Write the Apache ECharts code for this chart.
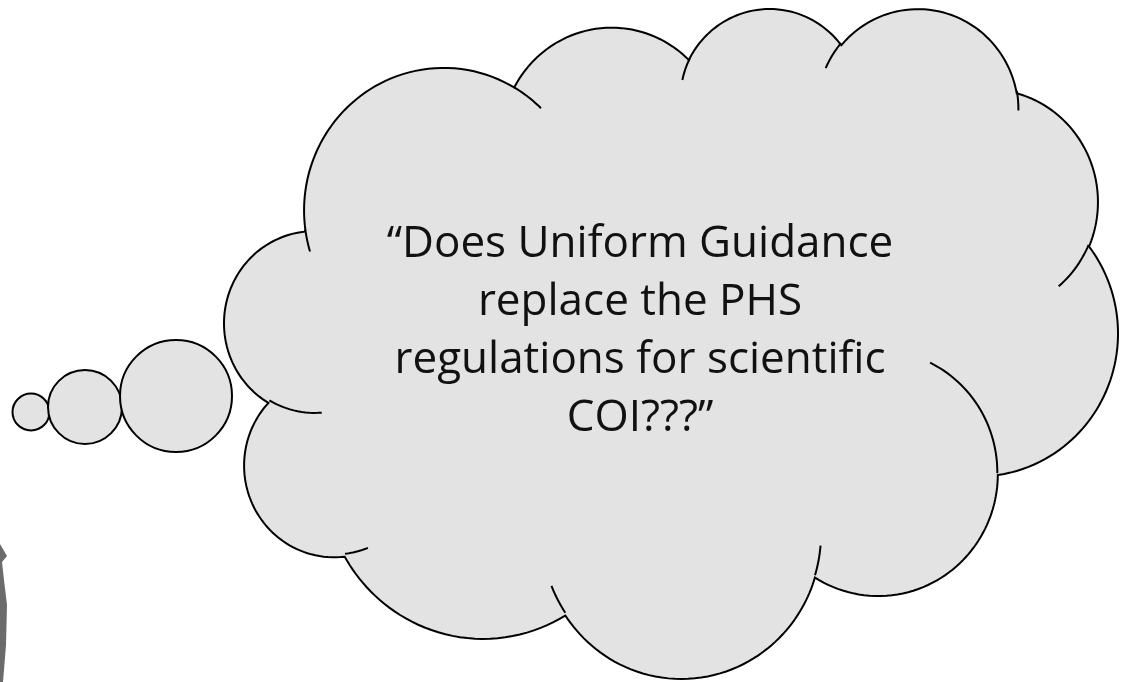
<!DOCTYPE html>
<html>
<head>
<meta charset="utf-8">
<script src="https://cdn.jsdelivr.net/npm/echarts@6/dist/echarts.min.js"></script>
<style>
html,body{margin:0;padding:0;background:#fff;}
#chart{width:1122px;height:682px;}
</style>
</head>
<body>
<div id="chart"></div>
<script>
// Text content of the thought bubble
const textLines = ['\u201cDoes Uniform Guidance', 'replace the PHS', 'regulations for scientific', 'COI???\u201d'];

// Preset cloud outline geometry (DrawingML units, 43200 x 43200)
const cloudStart = [3900, 14370];
const cloudArcs = [
  [6753, 9190, -11429249, 7426832],
  [5333, 7267, -8646143, 5396714],
  [4365, 5945, -8748475, 5983381],
  [4857, 6595, -7859164, 7034504],
  [5333, 7273, -4722533, 6541615],
  [6775, 9220, -2776035, 7816140],
  [5785, 7867, 37501, 6842000],
  [6752, 9215, 1347096, 6910353],
  [7720, 10543, 3974558, 4542661],
  [4360, 5918, -16496525, 8804134],
  [4345, 5945, -14809710, 9151131]
];
const innerArcs = [
  [4693, 26177, 4345, 5945, 5204520, 1585770],
  [6928, 34899, 4360, 5918, 4416628, 686848],
  [16478, 39090, 6752, 9215, 8257449, 844866],
  [28827, 34751, 6752, 9215, 387196, 959901],
  [34129, 22954, 5785, 7867, -4217541, 4255042],
  [41798, 15354, 5333, 7273, 1819082, 1665090],
  [38324, 5426, 4857, 6595, -824660, 891534],
  [29078, 3952, 4857, 6595, -8950887, 1091722],
  [22141, 4720, 4365, 5945, -9809656, 1061181],
  [14000, 5192, 6753, 9190, -4002417, 739161],
  [4127, 15789, 6753, 9190, 9459261, 711490]
];

function ellPt(wR, hR, ang) {
  const t = ang * Math.PI / 180 / 60000;
  const c = Math.cos(t), s = Math.sin(t);
  const r = 1 / Math.sqrt((c * c) / (wR * wR) + (s * s) / (hR * hR));
  return [r * c, r * s];
}
function arcTo(pts, cur, wR, hR, st, sw) {
  const p0 = ellPt(wR, hR, st);
  const cx = cur[0] - p0[0], cy = cur[1] - p0[1];
  const N = Math.max(12, Math.ceil(Math.abs(sw) / 60000 / 2));
  let last = cur;
  for (let i = 1; i <= N; i++) {
    const p = ellPt(wR, hR, st + sw * i / N);
    last = [cx + p[0], cy + p[1]];
    pts.push(last);
  }
  return last;
}

const fillPts = [cloudStart.slice()];
let cur = cloudStart.slice();
cloudArcs.forEach(a => { cur = arcTo(fillPts, cur, a[0], a[1], a[2], a[3]); });

const innerPts = innerArcs.map(a => {
  const pts = [[a[0], a[1]]];
  arcTo(pts, [a[0], a[1]], a[2], a[3], a[4], a[5]);
  return pts;
});

// fit the outline into the observed frame
const box = {left: 224, right: 1118, top: 9, bottom: 679};
let minX = Infinity, maxX = -Infinity, minY = Infinity, maxY = -Infinity;
fillPts.forEach(p => { minX = Math.min(minX, p[0]); maxX = Math.max(maxX, p[0]); minY = Math.min(minY, p[1]); maxY = Math.max(maxY, p[1]); });
const sx = (box.right - box.left) / (maxX - minX);
const sy = (box.bottom - box.top) / (maxY - minY);
const map = p => [box.left + (p[0] - minX) * sx, box.top + (p[1] - minY) * sy];

const FILL = '#e3e3e3';
const STROKE = '#000000';

const graphics = [];
// figure silhouette at bottom left
graphics.push({
  type: 'polygon',
  shape: {points: [[0, 544], [7, 556], [2, 562], [4, 580], [7, 605], [6, 645], [3, 682], [0, 682]]},
  style: {fill: '#6b6b6b'}
});
// bubbles
[[31, 412, 18.5], [85, 407, 37], [176, 396, 56]].forEach(c => {
  graphics.push({
    type: 'circle',
    shape: {cx: c[0], cy: c[1], r: c[2]},
    style: {fill: FILL, stroke: STROKE, lineWidth: 2}
  });
});
graphics.push({
  type: 'polygon',
  shape: {points: fillPts.map(map)},
  style: {fill: FILL, stroke: STROKE, lineWidth: 2}
});
innerPts.forEach(pts => {
  graphics.push({
    type: 'polyline',
    shape: {points: pts.map(map)},
    style: {fill: null, stroke: STROKE, lineWidth: 2}
  });
});
const FS = 44;
const baselines = [257, 315, 373, 431];
textLines.forEach((t, i) => {
  graphics.push({
    type: 'text',
    x: 640, y: baselines[i] - Math.round(FS * 0.285),
    style: {
      text: t, fill: '#111', font: FS + 'px "Open Sans"',
      align: 'center', verticalAlign: 'middle'
    }
  });
});

const chart = echarts.init(document.getElementById('chart'), null, {renderer: 'canvas'});
chart.setOption({animation: false, backgroundColor: '#ffffff', graphic: graphics});
</script>
</body>
</html>
